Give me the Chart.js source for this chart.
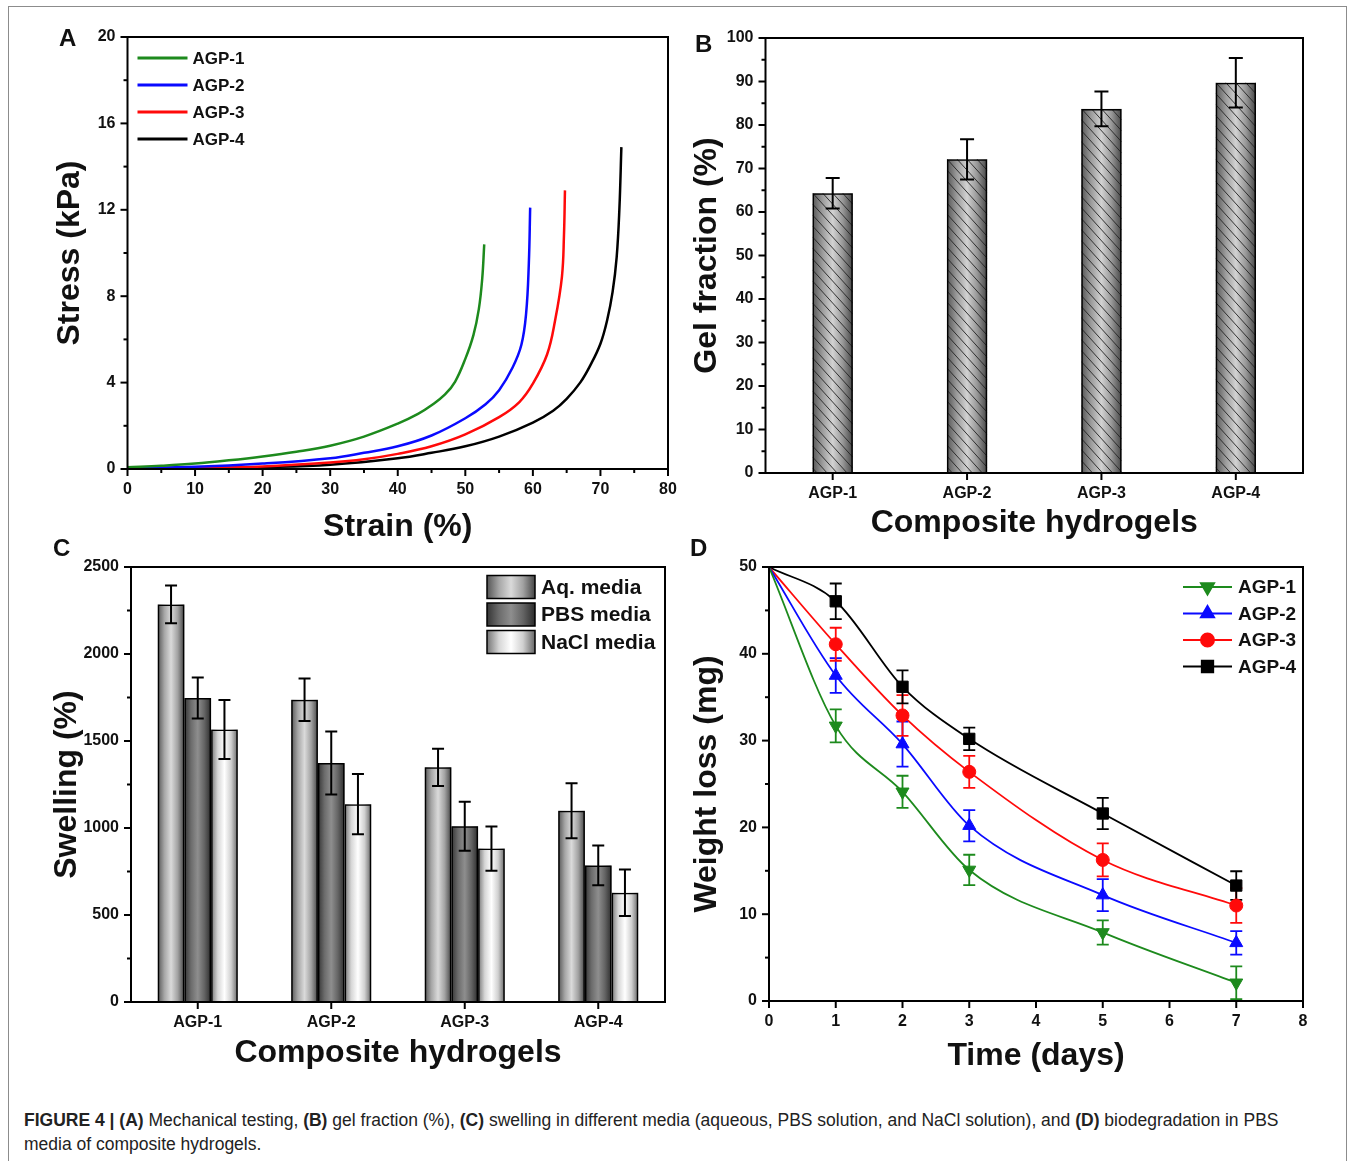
<!DOCTYPE html>
<html>
<head>
<script src="https://cdn.jsdelivr.net/npm/chart.js"></script>
<style>
  body { margin: 0; width: 1356px; height: 1161px; position: relative; background: #fff; overflow: hidden;
         font-family: 'Liberation Sans', Arial, sans-serif; }
  canvas { position: absolute; }
  #frame { position: absolute; left: 8px; top: 6px; width: 1337px; height: 1200px;
           border: 1px solid #8c8c8c; border-bottom: none; }
  .panel { position: absolute; font: bold 24px/24px 'Liberation Sans', Arial, sans-serif; color: #111; }
  #caption { position: absolute; left: 24px; top: 1108px; font-size: 17.5px; line-height: 24px; color: #222; white-space: nowrap; }
</style>
</head>
<body>
<div id="frame"></div>
<canvas id="chartA" width="660" height="530" style="left:20px; top:20px"></canvas>
<canvas id="chartB" width="666" height="530" style="left:684px; top:20px"></canvas>
<canvas id="chartC" width="660" height="530" style="left:20px; top:550px"></canvas>
<canvas id="chartD" width="666" height="530" style="left:684px; top:550px"></canvas>
<div class="panel" style="left:59px; top:26px">A</div>
<div class="panel" style="left:695px; top:32px">B</div>
<div class="panel" style="left:53px; top:536px">C</div>
<div class="panel" style="left:690px; top:536px">D</div>
<div id="caption"><b>FIGURE 4 | (A)</b> Mechanical testing, <b>(B)</b> gel fraction (%), <b>(C)</b> swelling in different media (aqueous, PBS solution, and NaCl solution), and <b>(D)</b> biodegradation in PBS<br>media of composite hydrogels.</div>

<script>
// ---- panel A: stress-strain ----
const strainAGP1 = [0, 5, 10, 15, 20, 25, 30, 35, 40, 43, 45, 47, 48.5, 50, 51.2, 52, 52.5, 52.8];
const stressAGP1 = [0.08, 0.15, 0.25, 0.4, 0.58, 0.8, 1.08, 1.5, 2.1, 2.55, 2.95, 3.45, 4.05, 5.1, 6.2, 7.4, 8.8, 10.4];
const strainAGP2 = [0, 10, 20, 30, 35, 40, 45, 50, 53, 55, 57, 58.3, 59, 59.4, 59.6];
const stressAGP2 = [0.05, 0.1, 0.25, 0.5, 0.75, 1.05, 1.55, 2.35, 3.0, 3.65, 4.7, 5.75, 7.2, 9.5, 12.1];
const strainAGP3 = [0, 10, 20, 30, 35, 40, 45, 50, 55, 58, 60, 62.1, 63.3, 64.3, 64.6, 64.75];
const stressAGP3 = [0.03, 0.05, 0.12, 0.3, 0.45, 0.7, 1.05, 1.6, 2.4, 3.1, 3.95, 5.3, 6.9, 8.9, 10.8, 12.9];
const strainAGP4 = [0, 10, 20, 30, 40, 45, 50, 55, 60, 63, 65, 67, 68.5, 70, 71, 71.8, 72.4, 72.8, 73.1];
const stressAGP4 = [0, 0.02, 0.08, 0.2, 0.5, 0.75, 1.05, 1.5, 2.15, 2.7, 3.25, 4.0, 4.8, 5.8, 6.9, 8.2, 9.8, 12.0, 14.9];

// ---- panel B: gel fraction ----
const hydrogels = ['AGP-1', 'AGP-2', 'AGP-3', 'AGP-4'];
const gelFraction = [64.3, 72.1, 83.7, 89.7];
const gelError = [3.5, 4.6, 4.0, 5.7];

// ---- panel C: swelling ----
const swellAq = [2285, 1737, 1349, 1099];
const swellAqErr = [108, 122, 107, 158];
const swellPBS = [1747, 1373, 1010, 785];
const swellPBSErr = [118, 181, 141, 114];
const swellNaCl = [1566, 1137, 882, 628];
const swellNaClErr = [170, 173, 127, 134];

// ---- panel D: biodegradation ----
const days = [0, 1, 2, 3, 5, 7];
const lossAGP1 = [50, 31.7, 24.1, 15.1, 7.9, 2.1];
const lossAGP1Err = [0, 1.9, 1.85, 1.75, 1.4, 1.9];
const lossAGP2 = [50, 37.5, 29.6, 20.2, 12.2, 6.7];
const lossAGP2Err = [0, 2.0, 2.6, 1.8, 1.85, 1.35];
const lossAGP3 = [50, 41.1, 32.9, 26.4, 16.25, 11.0];
const lossAGP3Err = [0, 1.9, 2.35, 1.85, 1.9, 2.0];
const lossAGP4 = [50, 46.05, 36.2, 30.2, 21.6, 13.3];
const lossAGP4Err = [0, 2.05, 1.9, 1.3, 1.8, 1.65];

const FONT = "'Liberation Sans', Arial, sans-serif";
const GREEN = '#1d8a1d', BLUE = '#0a0aff', RED = '#ff0a0a', BLACK = '#000000';
Chart.defaults.font.family = FONT;
Chart.defaults.color = '#111';

function pairs(xs, ys) {
    return xs.map((x, i) => ({x: x, y: ys[i]}));
}

// frame + outward ticks (major / minor)
const tickMarks = {
    id: 'tickMarks',
    afterDraw(chart, args, opts) {
        const ctx = chart.ctx, area = chart.chartArea;
        ctx.save();
        ctx.strokeStyle = '#000';
        ctx.lineWidth = 2;
        ctx.strokeRect(area.left, area.top, area.right - area.left, area.bottom - area.top);
        ['x', 'y'].forEach(id => {
            const scale = chart.scales[id];
            const major = opts[id];
            scale.ticks.forEach((t, i) => {
                const p = scale.getPixelForTick(i);
                const r = major ? t.value / major : 0;
                const isMajor = !major || Math.abs(r - Math.round(r)) < 1e-6;
                const len = isMajor ? 7 : 4;
                ctx.beginPath();
                if (id === 'x') {
                    ctx.moveTo(p, area.bottom);
                    ctx.lineTo(p, area.bottom + len);
                } else {
                    ctx.moveTo(area.left, p);
                    ctx.lineTo(area.left - len, p);
                }
                ctx.stroke();
            });
        });
        ctx.restore();
    }
};

// cylinder shading + hatch for bars
const barShade = {
    id: 'barShade',
    beforeDatasetsDraw(chart) {
        const ctx = chart.ctx;
        chart.data.datasets.forEach((ds, di) => {
            if (!ds.shade) return;
            chart.getDatasetMeta(di).data.forEach(bar => {
                const {x, y, base, width} = bar.getProps(['x', 'y', 'base', 'width'], true);
                const l = x - width / 2, r = x + width / 2;
                const g = ctx.createLinearGradient(l, 0, r, 0);
                ds.shade.forEach((c, k) => g.addColorStop(k / (ds.shade.length - 1), c));
                ctx.save();
                ctx.fillStyle = g;
                ctx.fillRect(l, y, width, base - y);
                if (ds.hatch) {
                    ctx.beginPath();
                    ctx.rect(l, y, width, base - y);
                    ctx.clip();
                    ctx.beginPath();
                    ctx.strokeStyle = '#222';
                    ctx.lineWidth = 0.9;
                    for (let k = y - width * 1.1; k < base; k += ds.hatch) {
                        ctx.moveTo(l, k);
                        ctx.lineTo(r, k + width * 1.1);
                    }
                    ctx.stroke();
                }
                ctx.restore();
            });
        });
    }
};

function drawErrors(chart, opts) {
    const ctx = chart.ctx, yScale = chart.scales.y;
    chart.data.datasets.forEach((ds, di) => {
        if (!ds.errors) return;
        ctx.save();
        ctx.strokeStyle = ds.errorColor || '#000';
        ctx.lineWidth = opts.width;
        chart.getDatasetMeta(di).data.forEach((el, i) => {
            const e = ds.errors[i];
            if (!e) return;
            const v = typeof ds.data[i] === 'object' ? ds.data[i].y : ds.data[i];
            const top = yScale.getPixelForValue(v + e), bot = yScale.getPixelForValue(v - e);
            const c = opts.cap / 2;
            ctx.beginPath();
            ctx.moveTo(el.x, top); ctx.lineTo(el.x, bot);
            ctx.moveTo(el.x - c, top); ctx.lineTo(el.x + c, top);
            ctx.moveTo(el.x - c, bot); ctx.lineTo(el.x + c, bot);
            ctx.stroke();
        });
        ctx.restore();
    });
}

const errorBars = {
    id: 'errorBars',
    beforeDatasetsDraw(chart, args, opts) {
        if (opts.under) drawErrors(chart, opts);
    },
    afterDatasetsDraw(chart, args, opts) {
        if (!opts.under) drawErrors(chart, opts);
    }
};

// legend drawn inside the plot frame
const insideLegend = {
    id: 'insideLegend',
    afterDraw(chart, args, o) {
        if (!o.display) return;
        const {ctx, chartArea} = chart;
        ctx.save();
        ctx.font = o.font;
        ctx.textBaseline = 'middle';
        chart.data.datasets.forEach((ds, i) => {
            const x = chartArea.left + o.left;
            const y = chartArea.top + o.top + i * o.rowHeight;
            if (ds.shade) {
                const g = ctx.createLinearGradient(x, 0, x + o.sampleWidth, 0);
                ds.shade.forEach((c, k) => g.addColorStop(k / (ds.shade.length - 1), c));
                ctx.fillStyle = g;
                ctx.fillRect(x, y - o.sampleHeight / 2, o.sampleWidth, o.sampleHeight);
                ctx.strokeStyle = '#000';
                ctx.lineWidth = 1.5;
                ctx.strokeRect(x, y - o.sampleHeight / 2, o.sampleWidth, o.sampleHeight);
            } else {
                ctx.strokeStyle = ds.borderColor;
                ctx.lineWidth = o.lineWidth;
                ctx.beginPath();
                ctx.moveTo(x, y);
                ctx.lineTo(x + o.sampleWidth, y);
                ctx.stroke();
                if (o.markers && Chart.helpers && Chart.helpers.drawPoint) {
                    ctx.fillStyle = ds.pointBackgroundColor;
                    ctx.strokeStyle = ds.pointBorderColor;
                    Chart.helpers.drawPoint(ctx, {
                        pointStyle: ds.pointStyle,
                        rotation: ds.pointRotation || 0,
                        radius: ds.pointRadius[1],
                        borderWidth: 1
                    }, x + o.sampleWidth / 2, y);
                }
            }
            ctx.fillStyle = '#111';
            ctx.fillText(ds.label, x + o.sampleWidth + o.gap, y + 1);
        });
        ctx.restore();
    }
};

Chart.register(tickMarks, barShade, errorBars, insideLegend);

function axisTitle(text, pad) {
    return {display: true, text: text, color: '#111', font: {size: 32, weight: 'bold'}, padding: pad};
}
// fixed axis sizes so the plot frames land where the figure has them
function fixY(w) {
    return s => { s.width = w; s.paddingTop = 0; s.paddingBottom = 0; };
}
function fixX(h) {
    return s => { s.height = h; s.paddingLeft = 0; s.paddingRight = 0; };
}
const tickFont = {size: 16, weight: 'bold'};
const noGrid = {display: false, drawTicks: false};
const noBorder = {display: false};
const basePlugins = {legend: {display: false}, tooltip: {enabled: false}};

// ---------- A ----------
new Chart(document.getElementById('chartA'), {
    type: 'line',
    data: {
        datasets: [
            {label: 'AGP-1', data: pairs(strainAGP1, stressAGP1), borderColor: GREEN},
            {label: 'AGP-2', data: pairs(strainAGP2, stressAGP2), borderColor: BLUE},
            {label: 'AGP-3', data: pairs(strainAGP3, stressAGP3), borderColor: RED},
            {label: 'AGP-4', data: pairs(strainAGP4, stressAGP4), borderColor: BLACK}
        ].map(d => Object.assign(d, {borderWidth: 2.5, pointRadius: 0, fill: false, tension: 0.4}))
    },
    options: {
        responsive: false, animation: false, devicePixelRatio: 1, events: [],
        layout: {padding: {top: 17, right: 12, left: 0, bottom: 0}},
        scales: {
            x: {
                type: 'linear', min: 0, max: 80,
                ticks: {stepSize: 5, autoSkip: false, maxRotation: 0, padding: 11, font: tickFont,
                        callback: v => (v % 10 === 0 ? v : '')},
                grid: noGrid, border: noBorder,
                title: axisTitle('Strain (%)', {top: 0, bottom: 4}),
                afterFit: fixX(81)
            },
            y: {
                min: 0, max: 20,
                ticks: {stepSize: 2, autoSkip: false, padding: 12, font: tickFont,
                        callback: v => (v % 4 === 0 ? v : '')},
                grid: noGrid, border: noBorder,
                title: axisTitle('Stress (kPa)', {top: 31, bottom: 0}),
                afterFit: fixY(107.5)
            }
        },
        plugins: Object.assign({}, basePlugins, {
            tickMarks: {x: 10, y: 4},
            errorBars: {width: 2, cap: 12},
            insideLegend: {display: true, left: 10, top: 21, rowHeight: 27, sampleWidth: 50, gap: 5,
                           font: 'bold 17px ' + FONT, lineWidth: 3}
        })
    }
});

// ---------- B ----------
new Chart(document.getElementById('chartB'), {
    type: 'bar',
    data: {
        labels: hydrogels,
        datasets: [{
            label: 'Gel fraction', data: gelFraction, errors: gelError,
            backgroundColor: 'rgba(0,0,0,0)', borderColor: '#000', borderWidth: 1.5,
            shade: ['#555555', '#9c9c9c', '#d2d2d2', '#989898', '#454545'], hatch: 11,
            categoryPercentage: 1, barPercentage: 0.3
        }]
    },
    options: {
        responsive: false, animation: false, devicePixelRatio: 1, events: [],
        layout: {padding: {top: 18, right: 47, left: 0, bottom: 0}},
        scales: {
            x: {
                ticks: {padding: 11, font: tickFont, maxRotation: 0},
                grid: noGrid, border: noBorder,
                title: axisTitle('Composite hydrogels', {top: 0, bottom: 8}),
                afterFit: fixX(77)
            },
            y: {
                min: 0, max: 100,
                ticks: {stepSize: 5, autoSkip: false, padding: 12, font: tickFont,
                        callback: v => (v % 10 === 0 ? v : '')},
                grid: noGrid, border: noBorder,
                title: axisTitle('Gel fraction (%)', {top: 4, bottom: 0}),
                afterFit: fixY(81.5)
            }
        },
        plugins: Object.assign({}, basePlugins, {
            tickMarks: {x: 0, y: 10},
            errorBars: {width: 2, cap: 14},
            insideLegend: {display: false}
        })
    }
});

// ---------- C ----------
new Chart(document.getElementById('chartC'), {
    type: 'bar',
    data: {
        labels: hydrogels,
        datasets: [
            {label: 'Aq. media', data: swellAq, errors: swellAqErr,
             shade: ['#555555', '#a6a6a6', '#dadada', '#a2a2a2', '#454545']},
            {label: 'PBS media', data: swellPBS, errors: swellPBSErr,
             shade: ['#353535', '#6c6c6c', '#8e8e8e', '#646464', '#2c2c2c']},
            {label: 'NaCl media', data: swellNaCl, errors: swellNaClErr,
             shade: ['#757575', '#d6d6d6', '#ffffff', '#d0d0d0', '#666666']}
        ].map(d => Object.assign(d, {backgroundColor: 'rgba(0,0,0,0)', borderColor: '#000', borderWidth: 1.5,
                                     categoryPercentage: 0.6, barPercentage: 1}))
    },
    options: {
        responsive: false, animation: false, devicePixelRatio: 1, events: [],
        layout: {padding: {top: 17, right: 15, left: 0, bottom: 0}},
        scales: {
            x: {
                ticks: {padding: 11, font: tickFont, maxRotation: 0},
                grid: noGrid, border: noBorder,
                title: axisTitle('Composite hydrogels', {top: 0, bottom: 8}),
                afterFit: fixX(78)
            },
            y: {
                min: 0, max: 2500,
                ticks: {stepSize: 250, autoSkip: false, padding: 12, font: tickFont,
                        callback: v => (v % 500 === 0 ? v : '')},
                grid: noGrid, border: noBorder,
                title: axisTitle('Swelling (%)', {top: 28, bottom: 0}),
                afterFit: fixY(111)
            }
        },
        plugins: Object.assign({}, basePlugins, {
            tickMarks: {x: 0, y: 500},
            errorBars: {width: 2, cap: 12},
            insideLegend: {display: true, left: 356, top: 20, rowHeight: 27.5, sampleWidth: 48, sampleHeight: 23,
                           gap: 6, font: 'bold 21px ' + FONT}
        })
    }
});

// ---------- D ----------
function lossSet(label, values, errs, color, style, rot, r) {
    return {
        label: label, data: pairs(days, values), errors: errs, errorColor: color,
        borderColor: color, borderWidth: 1.8, fill: false, cubicInterpolationMode: 'monotone',
        pointStyle: style, pointRotation: rot, pointRadius: days.map((d, i) => (i === 0 ? 0 : r)),
        pointBackgroundColor: color, pointBorderColor: color, pointBorderWidth: 1
    };
}
new Chart(document.getElementById('chartD'), {
    type: 'line',
    data: {
        datasets: [
            lossSet('AGP-1', lossAGP1, lossAGP1Err, GREEN, 'triangle', 180, 7.5),
            lossSet('AGP-2', lossAGP2, lossAGP2Err, BLUE, 'triangle', 0, 7.5),
            lossSet('AGP-3', lossAGP3, lossAGP3Err, RED, 'circle', 0, 6.5),
            lossSet('AGP-4', lossAGP4, lossAGP4Err, BLACK, 'rect', 0, 8)
        ]
    },
    options: {
        responsive: false, animation: false, devicePixelRatio: 1, events: [],
        layout: {padding: {top: 17, right: 47, left: 0, bottom: 0}},
        scales: {
            x: {
                type: 'linear', min: 0, max: 8,
                ticks: {stepSize: 1, autoSkip: false, maxRotation: 0, padding: 11, font: tickFont},
                grid: noGrid, border: noBorder,
                title: axisTitle('Time (days)', {top: 0, bottom: 5}),
                afterFit: fixX(79)
            },
            y: {
                min: 0, max: 50,
                ticks: {stepSize: 5, autoSkip: false, padding: 12, font: tickFont,
                        callback: v => (v % 10 === 0 ? v : '')},
                grid: noGrid, border: noBorder,
                title: axisTitle('Weight loss (mg)', {top: 4, bottom: 0}),
                afterFit: fixY(85)
            }
        },
        plugins: Object.assign({}, basePlugins, {
            tickMarks: {x: 1, y: 10},
            errorBars: {width: 1.8, cap: 12, under: true},
            insideLegend: {display: true, left: 414, top: 20, rowHeight: 26.5, sampleWidth: 49, gap: 6,
                           font: 'bold 19px ' + FONT, lineWidth: 2, markers: true}
        })
    }
});
</script>
</body>
</html>
